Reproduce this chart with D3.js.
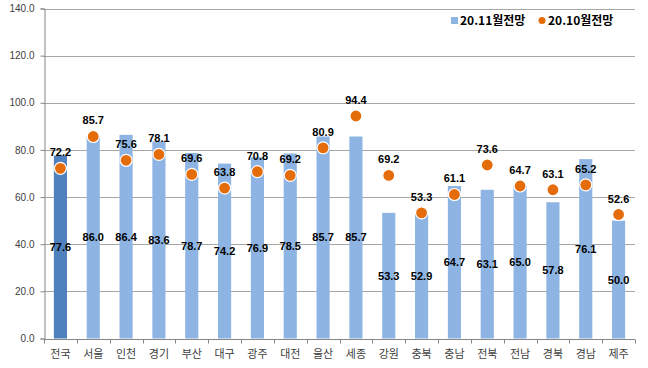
<!DOCTYPE html>
<html>
<head>
<meta charset="utf-8">
<script src="https://cdn.jsdelivr.net/npm/d3@7"></script>
<style>
  html, body { margin: 0; padding: 0; background: #fff; }
  svg { display: block; }
</style>
</head>
<body>
<svg id="chart" width="648" height="368"></svg>
<script>
const categories = ["전국","서울","인천","경기","부산","대구","광주","대전","울산","세종","강원","충북","충남","전북","전남","경북","경남","제주"];
const nov = [77.6, 86.0, 86.4, 83.6, 78.7, 74.2, 76.9, 78.5, 85.7, 85.7, 53.3, 52.9, 64.7, 63.1, 65.0, 57.8, 76.1, 50.0];
const oct = [72.2, 85.7, 75.6, 78.1, 69.6, 63.8, 70.8, 69.2, 80.9, 94.4, 69.2, 53.3, 61.1, 73.6, 64.7, 63.1, 65.2, 52.6];
const yTicks = [0, 20, 40, 60, 80, 100, 120, 140];
const seriesNames = ["20.11월전망", "20.10월전망"];

const svg = d3.select("#chart");
const margin = {left: 44, right: 13, top: 9, bottom: 30};
const W = 648, H = 368;
const x = d3.scaleBand().domain(categories).range([margin.left, W - margin.right]).paddingInner(0.6).paddingOuter(0.3);
const y = d3.scaleLinear().domain([0, 140]).range([338.5, 8.5]);

const numFont = "'Liberation Sans', Arial, sans-serif";
const krFont = "'Noto Sans CJK KR', sans-serif";

// gridlines
svg.append("g").selectAll("line").data(yTicks.slice(1)).join("line")
  .attr("x1", margin.left).attr("x2", W - margin.right)
  .attr("y1", d => Math.round(y(d)) + 0.5).attr("y2", d => Math.round(y(d)) + 0.5)
  .attr("stroke", "#a6a6a6").attr("stroke-width", 1);

// y axis
const yAxis = d3.axisLeft(y).tickValues(yTicks).tickFormat(d3.format(".1f")).tickSize(4).tickPadding(6);
const gy = svg.append("g").attr("transform", `translate(${margin.left + 0.5},0)`).call(yAxis);
gy.select(".domain").attr("stroke", "#868686");
gy.selectAll(".tick line").attr("stroke", "#868686");
gy.selectAll("text").attr("font-family", numFont).attr("font-size", 10).attr("fill", "#404040");

// bars
svg.append("g").selectAll("rect").data(categories).join("rect")
  .attr("x", d => x(d)).attr("width", x.bandwidth())
  .attr("y", (d, i) => y(nov[i])).attr("height", (d, i) => y(0) - y(nov[i]))
  .attr("fill", (d, i) => i === 0 ? "#4f81bd" : "#8db4e2");

// x axis
const band = x.step();
const gx = svg.append("g").attr("transform", `translate(0,${Math.round(y(0)) + 0.5})`);
gx.append("line").attr("x1", margin.left).attr("x2", W - margin.right).attr("stroke", "#868686");
const bounds = d3.range(categories.length + 1).map(i => margin.left + (W - margin.left - margin.right) * i / categories.length);
gx.selectAll("line.tk").data(bounds).join("line").attr("class", "tk")
  .attr("x1", d => Math.round(d) + 0.5).attr("x2", d => Math.round(d) + 0.5)
  .attr("y1", 0).attr("y2", 4).attr("stroke", "#868686");
gx.selectAll("text").data(categories).join("text")
  .attr("x", d => x(d) + x.bandwidth() / 2).attr("y", 18)
  .attr("text-anchor", "middle").attr("font-family", krFont).attr("font-size", 11)
  .attr("fill", "#404040").text(d => d);

// bar labels (centered in bar)
svg.append("g").selectAll("text").data(categories).join("text")
  .attr("x", d => x(d) + x.bandwidth() / 2)
  .attr("y", (d, i) => (y(nov[i]) + y(0)) / 2 + 4)
  .attr("text-anchor", "middle").attr("font-family", numFont).attr("font-weight", "bold")
  .attr("font-size", 11).attr("fill", "#000").text((d, i) => nov[i].toFixed(1));

// dots
svg.append("g").selectAll("circle").data(categories).join("circle")
  .attr("cx", d => x(d) + x.bandwidth() / 2).attr("cy", (d, i) => y(oct[i]))
  .attr("r", 6).attr("fill", "#e46c0a").attr("stroke", "#fff").attr("stroke-width", 1.2);

// dot labels
svg.append("g").selectAll("text").data(categories).join("text")
  .attr("x", d => x(d) + x.bandwidth() / 2)
  .attr("y", (d, i) => y(oct[i]) - 12)
  .attr("text-anchor", "middle").attr("font-family", numFont).attr("font-weight", "bold")
  .attr("font-size", 11).attr("fill", "#000").text((d, i) => oct[i].toFixed(1));

// legend
const lg = svg.append("g");
lg.append("rect").attr("x", 451).attr("y", 17).attr("width", 7).attr("height", 7).attr("fill", "#8db4e2");
lg.append("text").attr("x", 460).attr("y", 25).attr("font-family", krFont).attr("font-weight", "bold")
  .attr("font-size", 12).attr("fill", "#000").text(seriesNames[0]);
lg.append("circle").attr("cx", 542).attr("cy", 20.5).attr("r", 3.5).attr("fill", "#e46c0a");
lg.append("text").attr("x", 548).attr("y", 25).attr("font-family", krFont).attr("font-weight", "bold")
  .attr("font-size", 12).attr("fill", "#000").text(seriesNames[1]);
</script>
</body>
</html>
